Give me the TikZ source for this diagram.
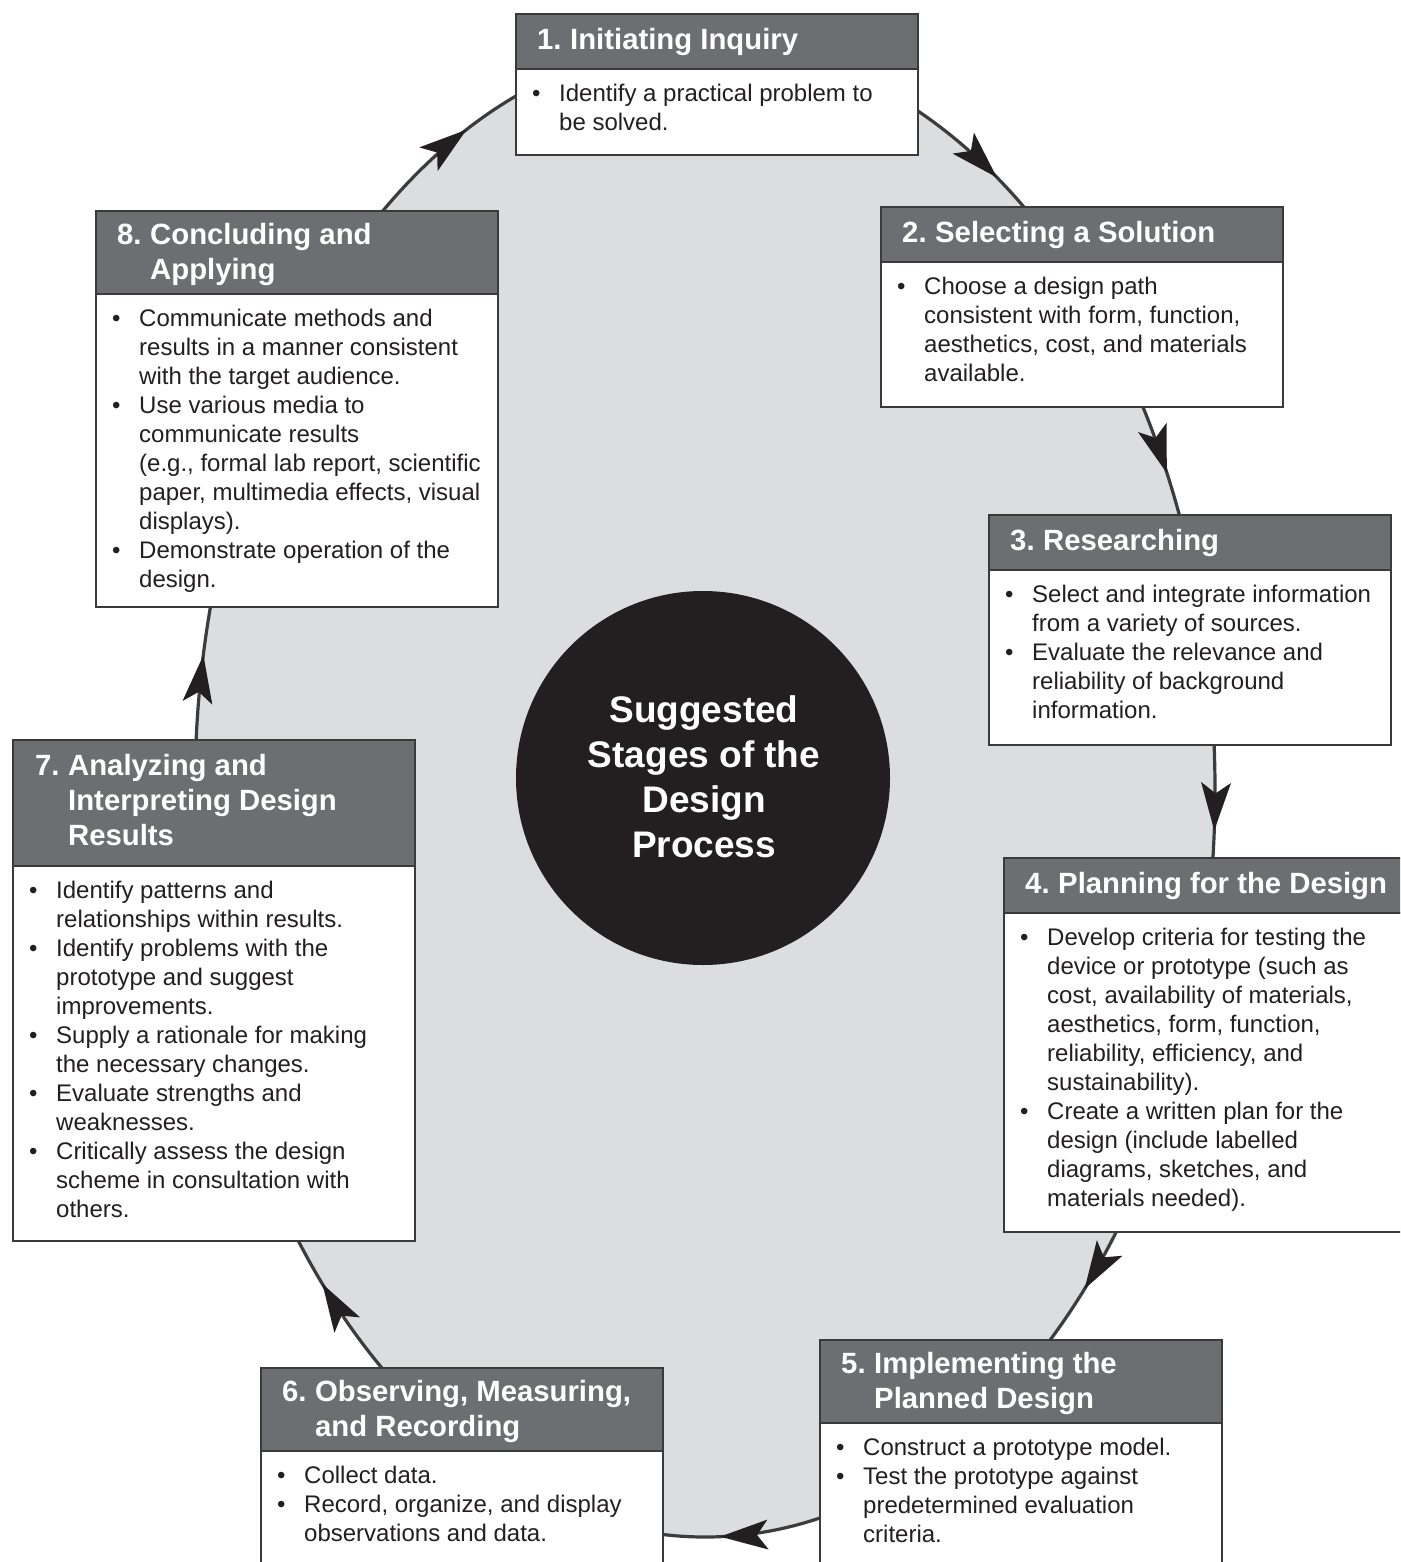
\documentclass[tikz,border=0pt]{standalone}
\usepackage{fontspec}
\setmainfont{Liberation Sans}
\usetikzlibrary{calc}

\definecolor{ringfill}{HTML}{DCDDDF}
\definecolor{ringline}{HTML}{3C3C3C}
\definecolor{headfill}{HTML}{6D6E71}
\definecolor{boxline}{HTML}{3A3A3A}
\definecolor{ink}{HTML}{231F20}

% bullet column and stage-number column
\newcommand\bul{\makebox[27pt][l]{\textbullet}}
\newcommand\stno[1]{\makebox[33pt][l]{#1}}
\newcommand\hind{\hspace*{33pt}}
\newcommand\hlines[1]{\begin{tabular}{@{}l@{}}#1\end{tabular}}
\newcommand\blines[1]{\begin{tabular}{@{}l@{}l@{}}#1\end{tabular}}

\begin{document}
\begin{tikzpicture}[x=1pt,y=-1pt,
  hdr/.style={draw=boxline, line width=1.5pt, fill=headfill, minimum width=402pt,
    anchor=north west, inner sep=0pt, outer sep=0pt},
  bodybox/.style={draw=boxline, line width=1.5pt, fill=white, minimum width=402pt,
    anchor=north west, inner sep=0pt, outer sep=0pt},
  htext/.style={anchor=north west, inner sep=0pt, text=white,
    font=\fontsize{29.3}{35}\selectfont\bfseries},
  btext/.style={anchor=north west, inner sep=0pt, text=ink,
    font=\fontsize{24}{29}\selectfont},
  hubstyle/.style={circle, fill=ink, minimum size=374pt, inner sep=0pt},
  hubtext/.style={inner sep=0pt, text=white,
    font=\fontsize{37}{45}\selectfont\bfseries},
  arrowhead/.style={fill=ink},
]
\useasboundingbox (0,0) rectangle (1400,1562);
\clip (0,0) rectangle (1400,1562);
\fill[white] (0,0) rectangle (1400,1562);

% the cycle ring
\filldraw[fill=ringfill, draw=ringline, line width=3.2pt]
  (705,790) ellipse [x radius=510pt, y radius=747pt];

% arrowheads along the ring, running clockwise
\foreach \t in {117.9,55.1,25.1,-3.1,-41.9,-88.3,-138.6,169.6}{
  \pgfmathsetmacro\px{705+510*cos(\t)}
  \pgfmathsetmacro\py{790-747*sin(\t)}
  \pgfmathsetmacro\ang{atan2(-747*cos(\t),510*sin(\t))}
  \begin{scope}[shift={(\px,\py)}, rotate=\ang]
    \fill[arrowhead] (0,0) -- (-48,15) -- (-37,0) -- (-48,-15) -- cycle;
  \end{scope}
}

% centre
\node[hubstyle] (hub) at (703,778) {};
\node[hubtext] (hublabel) at (704,781) {\begin{tabular}{@{}c@{}}Suggested\\Stages of the\\Design\\Process\end{tabular}};

% 1
\node[hdr, minimum height=55pt] (h1) at (516,14) {};
\node[bodybox, minimum height=86pt] (b1) at (h1.south west) {};
\node[htext] (t1) at ([shift={(21,11)}]h1.north west) {\hlines{\stno{1.}Initiating Inquiry}};
\node[btext] (c1) at ([shift={(16,12)}]b1.north west) {\blines{%
\bul & Identify a practical problem to\\
     & be solved.}};

% 2
\node[hdr, minimum height=55pt] (h2) at (881,207) {};
\node[bodybox, minimum height=145pt] (b2) at (h2.south west) {};
\node[htext] (t2) at ([shift={(21,11)}]h2.north west) {\hlines{\stno{2.}Selecting a Solution}};
\node[btext] (c2) at ([shift={(16,12)}]b2.north west) {\blines{%
\bul & Choose a design path\\
     & consistent with form, function,\\
     & aesthetics, cost, and materials\\
     & available.}};

% 3
\node[hdr, minimum height=55pt] (h3) at (989,515) {};
\node[bodybox, minimum height=175pt] (b3) at (h3.south west) {};
\node[htext] (t3) at ([shift={(21,11)}]h3.north west) {\hlines{\stno{3.}Researching}};
\node[btext] (c3) at ([shift={(16,12)}]b3.north west) {\blines{%
\bul & Select and integrate information\\
     & from a variety of sources.\\
\bul & Evaluate the relevance and\\
     & reliability of background\\
     & information.}};

% 4
\node[hdr, minimum height=55pt] (h4) at (1004,858) {};
\node[bodybox, minimum height=319pt] (b4) at (h4.south west) {};
\node[htext] (t4) at ([shift={(21,11)}]h4.north west) {\hlines{\stno{4.}Planning for the Design}};
\node[btext] (c4) at ([shift={(16,12)}]b4.north west) {\blines{%
\bul & Develop criteria for testing the\\
     & device or prototype (such as\\
     & cost, availability of materials,\\
     & aesthetics, form, function,\\
     & reliability, efficiency, and\\
     & sustainability).\\
\bul & Create a written plan for the\\
     & design (include labelled\\
     & diagrams, sketches, and\\
     & materials needed).}};

% 5
\node[hdr, minimum height=83pt] (h5) at (820,1340) {};
\node[bodybox, minimum height=200pt] (b5) at (h5.south west) {};
\node[htext] (t5) at ([shift={(21,8.5)}]h5.north west) {\hlines{\stno{5.}Implementing the\\\hind Planned Design}};
\node[btext] (c5) at ([shift={(16,12)}]b5.north west) {\blines{%
\bul & Construct a prototype model.\\
\bul & Test the prototype against\\
     & predetermined evaluation\\
     & criteria.}};

% 6
\node[hdr, minimum height=83pt] (h6) at (261,1368) {};
\node[bodybox, minimum height=200pt] (b6) at (h6.south west) {};
\node[htext] (t6) at ([shift={(21,8.5)}]h6.north west) {\hlines{\stno{6.}Observing, Measuring,\\\hind and Recording}};
\node[btext] (c6) at ([shift={(16,12)}]b6.north west) {\blines{%
\bul & Collect data.\\
\bul & Record, organize, and display\\
     & observations and data.}};

% 7
\node[hdr, minimum height=126pt] (h7) at (13,740) {};
\node[bodybox, minimum height=375pt] (b7) at (h7.south west) {};
\node[htext] (t7) at ([shift={(22,10.3)}]h7.north west) {\hlines{\stno{7.}Analyzing and\\\hind Interpreting Design\\\hind Results}};
\node[btext] (c7) at ([shift={(16,12)}]b7.north west) {\blines{%
\bul & Identify patterns and\\
     & relationships within results.\\
\bul & Identify problems with the\\
     & prototype and suggest\\
     & improvements.\\
\bul & Supply a rationale for making\\
     & the necessary changes.\\
\bul & Evaluate strengths and\\
     & weaknesses.\\
\bul & Critically assess the design\\
     & scheme in consultation with\\
     & others.}};

% 8
\node[hdr, minimum height=83pt] (h8) at (96,211) {};
\node[bodybox, minimum height=313pt] (b8) at (h8.south west) {};
\node[htext] (t8) at ([shift={(21,8.5)}]h8.north west) {\hlines{\stno{8.}Concluding and\\\hind Applying}};
\node[btext] (c8) at ([shift={(16,12)}]b8.north west) {\blines{%
\bul & Communicate methods and\\
     & results in a manner consistent\\
     & with the target audience.\\
\bul & Use various media to\\
     & communicate results\\
     & (e.g., formal lab report, scientific\\
     & paper, multimedia effects, visual\\
     & displays).\\
\bul & Demonstrate operation of the\\
     & design.}};
\end{tikzpicture}
\end{document}
